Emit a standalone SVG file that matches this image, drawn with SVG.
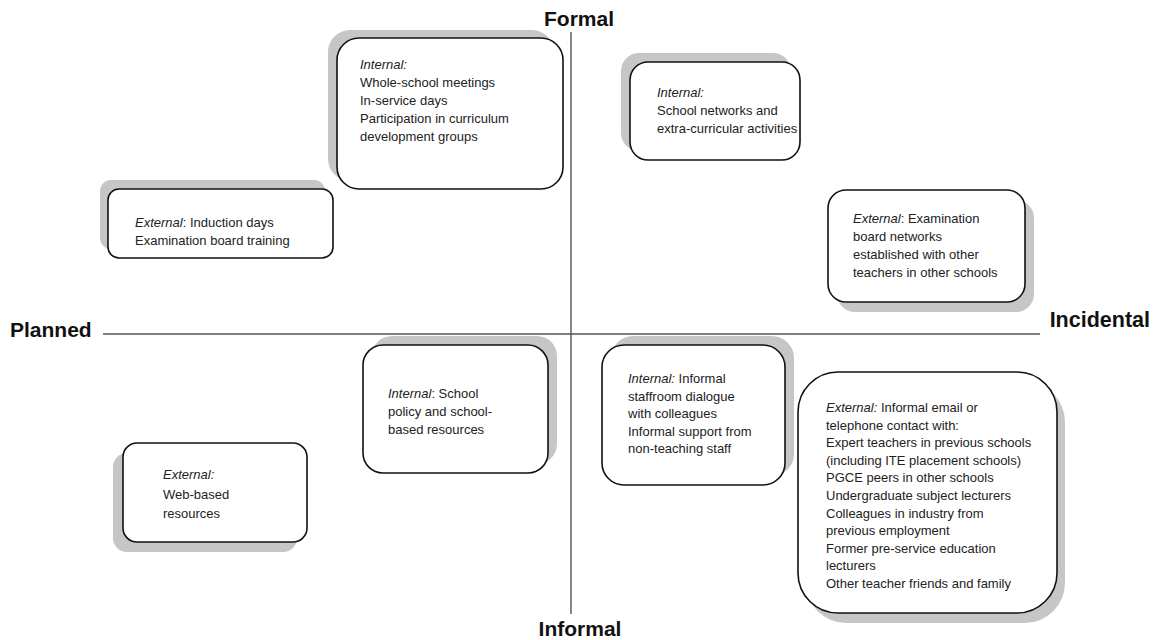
<svg xmlns="http://www.w3.org/2000/svg" width="1157" height="640" viewBox="0 0 1157 640">
<style>
.sh{fill:#c6c6c6}
.bx{fill:#fff;stroke:#111;stroke-width:1.6}
.t{font-family:"Liberation Sans",Arial,sans-serif;font-size:13px;fill:#222}
.i{font-style:italic}
.ax{stroke:#555;stroke-width:1.4;fill:none}
.lb{font-family:"Liberation Sans",Arial,sans-serif;font-size:21px;font-weight:bold;fill:#111}
</style>
<rect width="1157" height="640" fill="#fff"/>
<g id="axes">
<line class="ax" x1="571" y1="32" x2="571" y2="614"/>
<line class="ax" x1="103" y1="334" x2="1040" y2="334"/>
</g>
<g id="labels">
<text class="lb" x="579" y="26" text-anchor="middle">Formal</text>
<text class="lb" x="580" y="636" text-anchor="middle">Informal</text>
<text class="lb" x="10" y="337">Planned</text>
<text class="lb" x="1150" y="327" text-anchor="end" style="font-size:21.5px">Incidental</text>
</g>
<g id="n1">
<rect class="sh" x="328" y="30" width="226" height="151" rx="22"/>
<rect class="bx" x="337" y="38" width="226" height="151" rx="22"/>
<text class="t" x="360" y="69"><tspan class="i">Internal:</tspan><tspan x="360" dy="18">Whole-school meetings</tspan><tspan x="360" dy="18">In-service days</tspan><tspan x="360" dy="18">Participation in curriculum</tspan><tspan x="360" dy="18">development groups</tspan></text>
</g>
<g id="n2">
<rect class="sh" x="621" y="53" width="170" height="98" rx="18"/>
<rect class="bx" x="630" y="62" width="170" height="98" rx="18"/>
<text class="t" x="657" y="97"><tspan class="i">Internal:</tspan><tspan x="657" dy="18">School networks and</tspan><tspan x="657" dy="18">extra-curricular activities</tspan></text>
</g>
<g id="n3">
<rect class="sh" x="100" y="180" width="225" height="69" rx="11"/>
<rect class="bx" x="108" y="189" width="225" height="69" rx="11"/>
<text class="t" x="135" y="227"><tspan class="i">External</tspan>: Induction days<tspan x="135" dy="18">Examination board training</tspan></text>
</g>
<g id="n4">
<rect class="sh" x="837" y="200" width="197" height="112" rx="18"/>
<rect class="bx" x="828" y="190" width="197" height="112" rx="18"/>
<text class="t" x="853" y="223"><tspan class="i">External</tspan>: Examination<tspan x="853" dy="18">board networks</tspan><tspan x="853" dy="18">established with other</tspan><tspan x="853" dy="18">teachers in other schools</tspan></text>
</g>
<g id="n5">
<rect class="sh" x="372" y="336" width="185" height="128" rx="20"/>
<rect class="bx" x="363" y="345" width="185" height="128" rx="20"/>
<text class="t" x="388" y="398"><tspan class="i">Internal</tspan>:  School<tspan x="388" dy="18">policy and school-</tspan><tspan x="388" dy="18">based resources</tspan></text>
</g>
<g id="n6">
<rect class="sh" x="611" y="336" width="183" height="140" rx="22"/>
<rect class="bx" x="602" y="345" width="183" height="140" rx="22"/>
<text class="t" x="628" y="383"><tspan class="i">Internal:</tspan>  Informal<tspan x="628" dy="17.6">staffroom dialogue</tspan><tspan x="628" dy="17.6">with colleagues</tspan><tspan x="628" dy="17.6">Informal support from</tspan><tspan x="628" dy="17.6">non-teaching staff</tspan></text>
</g>
<g id="n7">
<rect class="sh" x="806" y="382" width="259" height="241" rx="40"/>
<rect class="bx" x="798" y="372" width="259" height="241" rx="40"/>
<text class="t" x="826" y="412"><tspan class="i">External:</tspan> Informal email or<tspan x="826" dy="17.6">telephone contact with:</tspan><tspan x="826" dy="17.6">Expert teachers in previous schools</tspan><tspan x="826" dy="17.6">(including ITE placement schools)</tspan><tspan x="826" dy="17.6">PGCE peers in other schools</tspan><tspan x="826" dy="17.6">Undergraduate subject lecturers</tspan><tspan x="826" dy="17.6">Colleagues in industry from</tspan><tspan x="826" dy="17.6">previous employment</tspan><tspan x="826" dy="17.6">Former pre-service education</tspan><tspan x="826" dy="17.6">lecturers</tspan><tspan x="826" dy="17.6">Other teacher friends and family</tspan></text>
</g>
<g id="n8">
<rect class="sh" x="113" y="453" width="184" height="99" rx="14"/>
<rect class="bx" x="123" y="443" width="184" height="99" rx="14"/>
<text class="t" x="163" y="479"><tspan class="i">External:</tspan><tspan x="163" dy="19.5">Web-based</tspan><tspan x="163" dy="19.5">resources</tspan></text>
</g>
</svg>
